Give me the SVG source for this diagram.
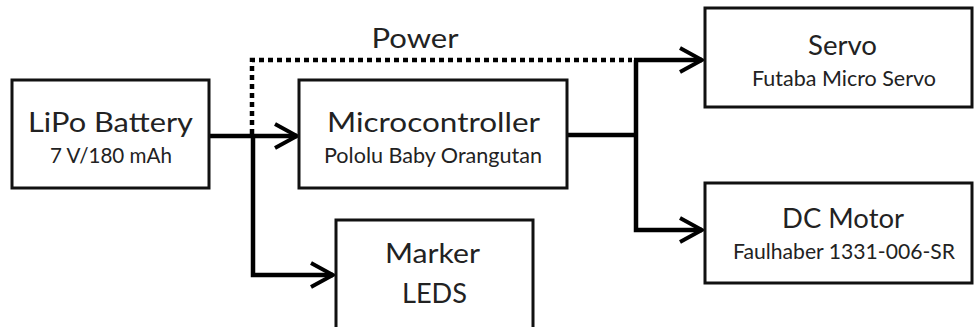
<svg xmlns="http://www.w3.org/2000/svg" width="974" height="327" viewBox="0 0 974 327">
<defs>
<style>
.box{fill:#fff;stroke:#111;stroke-width:3}
.t{font-family:Lato,"Open Sans","Liberation Sans",sans-serif;fill:#222;text-anchor:middle}
.big{font-size:27px}
.small{font-size:21px}
.wire{fill:none;stroke:#000;stroke-width:4.5}
.dot{fill:none;stroke:#000;stroke-width:4.5;stroke-dasharray:5 4}
</style>
<marker id="arr" markerUnits="userSpaceOnUse" markerWidth="32" markerHeight="32" viewBox="-28 -16 32 32" refX="0" refY="0" orient="auto">
<path d="M -22 -12 L 0 0 L -22 12" fill="none" stroke="#000" stroke-width="4"/>
</marker>
</defs>
<rect width="974" height="327" fill="#fff"/>
<g id="connectors">
<path class="dot" d="M 252 134 L 252 60 L 632 60"/>
<path class="wire" d="M 209 136 L 297 136" marker-end="url(#arr)"/>
<path class="wire" d="M 253 136 L 253 275 L 333 275" marker-end="url(#arr)"/>
<path class="wire" d="M 567 135 L 636 135"/>
<path class="wire" d="M 636 60 L 636 230 L 702 230" marker-end="url(#arr)"/>
<path class="wire" d="M 634 60 L 702 60" marker-end="url(#arr)"/>
<text class="t big" x="415" y="48" textLength="87" lengthAdjust="spacingAndGlyphs">Power</text>
</g>
<g id="lipo">
<rect class="box" x="12" y="80" width="197" height="108"/>
<text class="t big" x="110.5" y="132" textLength="165" lengthAdjust="spacingAndGlyphs">LiPo Battery</text>
<text class="t small" x="111" y="163" textLength="122" lengthAdjust="spacingAndGlyphs">7 V/180 mAh</text>
</g>
<g id="microcontroller">
<rect class="box" x="299" y="80" width="268" height="108"/>
<text class="t big" x="433.5" y="132" textLength="213" lengthAdjust="spacingAndGlyphs">Microcontroller</text>
<text class="t small" x="433" y="163" textLength="218" lengthAdjust="spacingAndGlyphs">Pololu Baby Orangutan</text>
</g>
<g id="servo">
<rect class="box" x="705" y="8" width="267" height="99"/>
<text class="t big" x="842.5" y="55" textLength="69" lengthAdjust="spacingAndGlyphs">Servo</text>
<text class="t small" x="844" y="86" textLength="184" lengthAdjust="spacingAndGlyphs">Futaba Micro Servo</text>
</g>
<g id="dcmotor">
<rect class="box" x="705" y="183" width="267" height="100"/>
<text class="t big" x="843" y="228" textLength="122" lengthAdjust="spacingAndGlyphs">DC Motor</text>
<text class="t small" x="844" y="259" textLength="222" lengthAdjust="spacingAndGlyphs">Faulhaber 1331-006-SR</text>
</g>
<g id="marker">
<rect class="box" x="336" y="220" width="197" height="110"/>
<text class="t big" x="432.5" y="263" textLength="95" lengthAdjust="spacingAndGlyphs">Marker</text>
<text class="t big" x="434.5" y="303" textLength="65" lengthAdjust="spacingAndGlyphs">LEDS</text>
</g>
</svg>
